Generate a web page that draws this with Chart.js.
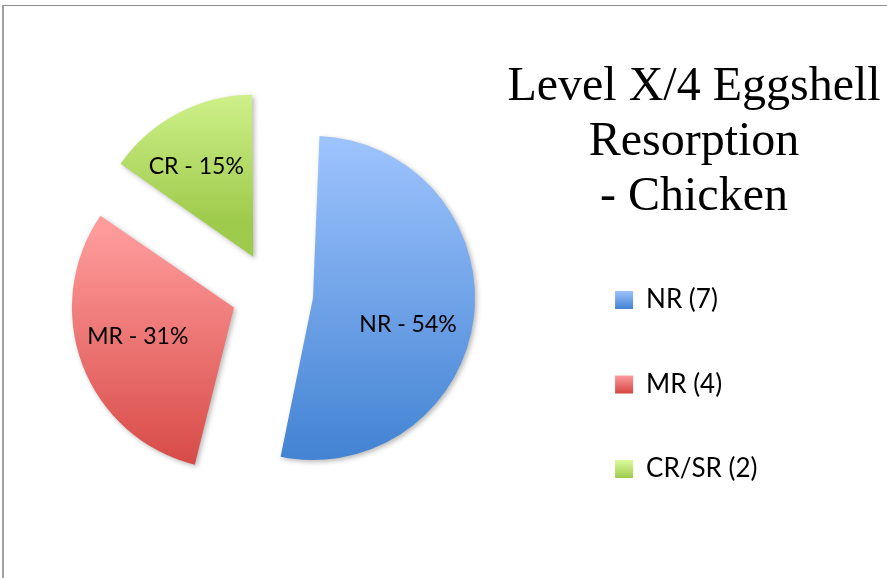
<!DOCTYPE html>
<html>
<head>
<meta charset="utf-8">
<script src="https://cdn.jsdelivr.net/npm/chart.js@4/dist/chart.umd.min.js"></script>
<style>
  body { margin: 0; background: #fff; }
  #wrap { position: relative; width: 887px; height: 578px; overflow: hidden; }
  #frame { position: absolute; left: 2px; top: 5px; width: 900px; height: 600px;
           border-top: 1px solid #8a8a8a; border-left: 2px solid #a0a0a0; }
  #title { position: absolute; left: 494px; top: 56px; width: 400px; text-align: center;
           font-family: 'Liberation Serif', serif; font-size: 48px; line-height: 55px; color: #000; }
  canvas { position: absolute; left: -12px; top: 0; }
</style>
</head>
<body>
<div id="wrap">
  <div id="frame"></div>
  <canvas id="pie" width="887" height="578"></canvas>
  <div id="title">Level X/4 Eggshell<br>Resorption<br>- Chicken</div>
</div>
<script>
const categories = ['NR', 'MR', 'CR/SR'];
const sliceNames = ['NR', 'MR', 'CR'];
const counts = [7, 4, 2];
const topColors = ['#9dc3fd', '#fe9b9b', '#dbfb9b'];
const bottomColors = ['#4182d2', '#d54642', '#9fcb4c'];

const pieRadius = 162;
const explode = 41;   // px each slice is pulled out
// label placement, mimicking Excel's "best fit"
const labelTurn = [9, 4, -4.5];
const labelReach = [0.61, 0.62, 0.66];
const legendFontSize = 26;
const legendBox = 18;

const total = counts.reduce((a, b) => a + b, 0);

// vertical extent of a pie sector, for the per-slice gradient
function sectorYRange(cy, r, a0, a1) {
  let lo = Math.min(0, Math.sin(a0), Math.sin(a1));
  let hi = Math.max(0, Math.sin(a0), Math.sin(a1));
  for (let k = -2; k <= 2; k++) {
    const down = Math.PI / 2 + k * 2 * Math.PI;
    const up = -Math.PI / 2 + k * 2 * Math.PI;
    if (down > a0 && down < a1) hi = 1;
    if (up > a0 && up < a1) lo = -1;
  }
  return [cy + lo * r, cy + hi * r];
}

function verticalGradient(ctx, y0, y1, i) {
  const g = ctx.createLinearGradient(0, y0, 0, y1);
  g.addColorStop(0, topColors[i]);
  g.addColorStop(1, bottomColors[i]);
  return g;
}

function sliceGradient(context) {
  const chart = context.chart;
  const area = chart.chartArea;
  const i = context.dataIndex;
  if (!area) return topColors[i];
  let a0 = -Math.PI / 2;
  for (let k = 0; k < i; k++) a0 += counts[k] / total * 2 * Math.PI;
  const a1 = a0 + counts[i] / total * 2 * Math.PI;
  const mid = (a0 + a1) / 2;
  const cy = (area.top + area.bottom) / 2 + Math.sin(mid) * explode;
  const [y0, y1] = sectorYRange(cy, pieRadius, a0, a1);
  return verticalGradient(chart.ctx, y0, y1, i);
}

// Chart.js grows arcs wider than 180deg by the offset; keep all radii equal
const evenRadius = {
  id: 'evenRadius',
  afterDatasetsUpdate(chart) {
    chart.getDatasetMeta(0).data.forEach(arc => {
      const fix = 1 - Math.sin(Math.min(Math.PI, arc.circumference));
      arc.outerRadius = pieRadius - explode * fix;
    });
  }
};

// small gradient in each legend box, once the boxes have their places
const legendGradient = {
  id: 'legendGradient',
  beforeDraw(chart) {
    const legend = chart.legend;
    legend.legendItems.forEach((item, i) => {
      const hb = legend.legendHitBoxes[i];
      const y0 = hb.top + Math.max((legendFontSize - legendBox) / 2, 0);
      item.fillStyle = verticalGradient(chart.ctx, y0, y0 + legendBox, i);
    });
  }
};

const sliceShadow = {
  id: 'sliceShadow',
  beforeDatasetsDraw(chart) {
    const ctx = chart.ctx;
    ctx.save();
    ctx.shadowColor = 'rgba(0,0,0,0.28)';
    ctx.shadowBlur = 5;
    ctx.shadowOffsetX = 2;
    ctx.shadowOffsetY = 2;
  },
  afterDatasetsDraw(chart) {
    chart.ctx.restore();
  }
};

const sliceLabels = {
  id: 'sliceLabels',
  afterDatasetsDraw(chart) {
    const ctx = chart.ctx;
    ctx.save();
    ctx.font = '23px Lato';
    ctx.fillStyle = '#000';
    ctx.textAlign = 'center';
    ctx.textBaseline = 'middle';
    chart.getDatasetMeta(0).data.forEach((arc, i) => {
      const mid = (arc.startAngle + arc.endAngle) / 2;
      const cx = arc.x + Math.cos(mid) * explode;
      const cy = arc.y + Math.sin(mid) * explode;
      const a = mid + labelTurn[i] * Math.PI / 180;
      const d = pieRadius * labelReach[i];
      const pct = Math.round(counts[i] / total * 100);
      ctx.fillText(sliceNames[i] + ' - ' + pct + '%', cx + Math.cos(a) * d, cy + Math.sin(a) * d);
    });
    ctx.restore();
  }
};

new Chart(document.getElementById('pie'), {
  type: 'pie',
  data: {
    labels: categories.map((c, i) => `${c} (${counts[i]})`),
    datasets: [{
      data: counts,
      backgroundColor: sliceGradient,
      borderWidth: 0,
      offset: explode * 4
    }]
  },
  options: {
    responsive: false,
    animation: false,
    radius: pieRadius,
    layout: { padding: { left: 0, right: 107.5, top: 45.5, bottom: 37.5 } },
    plugins: {
      tooltip: { enabled: false },
      legend: {
        position: 'right',
        align: 'end',
        labels: {
          boxWidth: legendBox,
          boxHeight: legendBox,
          padding: 58.5,
          color: '#000',
          font: { family: 'Lato', size: legendFontSize },
          generateLabels(chart) {
            return chart.data.labels.map((text, i) => ({
              text,
              fillStyle: topColors[i],
              strokeStyle: 'rgba(0,0,0,0)',
              lineWidth: 0,
              hidden: false,
              index: i
            }));
          }
        }
      }
    }
  },
  plugins: [evenRadius, legendGradient, sliceShadow, sliceLabels]
});
</script>
</body>
</html>
